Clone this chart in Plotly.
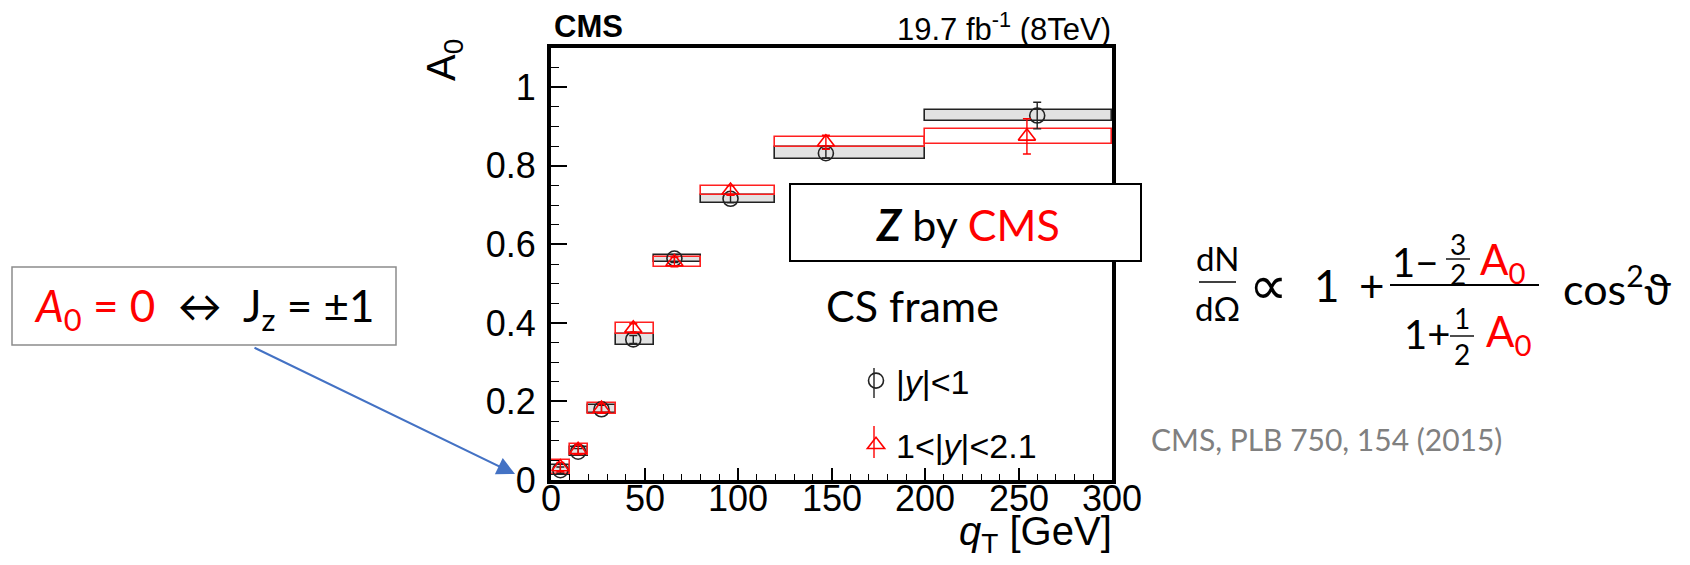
import plotly.graph_objects as go

# qT bins [GeV]
bin_lo = [0, 10, 20, 35, 55, 80, 120, 200]
bin_hi = [10, 20, 35, 55, 80, 120, 200, 300]

# |y| < 1 (central rapidity)
qt_c = [5, 14.5, 27, 44, 66, 96, 147, 260]
a0_c = [0.025, 0.072, 0.180, 0.358, 0.564, 0.716, 0.832, 0.928]
stat_c = [0.008, 0.008, 0.010, 0.010, 0.010, 0.010, 0.012, 0.034]
syst_c = [0.012, 0.012, 0.010, 0.015, 0.009, 0.0095, 0.015, 0.014]

# 1 < |y| < 2.1 (forward rapidity)
qt_f = [5, 14.5, 27, 44, 66, 96, 147, 254.5]
a0_f = [0.033, 0.077, 0.182, 0.386, 0.555, 0.737, 0.860, 0.875]
stat_f = [0.012, 0.012, 0.012, 0.012, 0.012, 0.012, 0.018, 0.045]
syst_f = [0.018, 0.014, 0.014, 0.015, 0.012, 0.012, 0.0125, 0.019]

# x-axis tick labels
x_ticks = [0, 50, 100, 150, 200, 250, 300]

W, H = 1690, 565
L, R, T, B = 551, 1112, 48, 480


def px(xp):
    return (xp - L) / (R - L)


def py(yp):
    return (B - yp) / (B - T)


ROOT_FONT = "Liberation Sans, Arial, sans-serif"
SLIDE_FONT = "Lato, Open Sans, sans-serif"

centers = [(a + b) / 2 for a, b in zip(bin_lo, bin_hi)]
widths = [b - a for a, b in zip(bin_lo, bin_hi)]

fig = go.Figure()

# systematic uncertainty boxes
fig.add_trace(go.Bar(
    x=centers, width=widths,
    base=[v - s for v, s in zip(a0_c, syst_c)],
    y=[2 * s for s in syst_c],
    marker=dict(color="#e2e2e2", line=dict(color="#222222", width=1.6)),
    showlegend=False, hoverinfo="skip"))
fig.add_trace(go.Bar(
    x=centers, width=widths,
    base=[v - s for v, s in zip(a0_f, syst_f)],
    y=[2 * s for s in syst_f],
    marker=dict(color="rgba(0,0,0,0)", line=dict(color="#ff2020", width=1.6)),
    showlegend=False, hoverinfo="skip"))

# measured points with statistical errors
fig.add_trace(go.Scatter(
    x=qt_c, y=a0_c, mode="markers", name="|<i>y</i>|&lt;1",
    legendgroup="c",
    marker=dict(symbol="circle-open", size=15, color="#222222",
                line=dict(width=1.6, color="#222222")),
    error_y=dict(type="data", array=stat_c, color="#222222",
                 thickness=1.4, width=4)))
fig.add_trace(go.Scatter(
    x=qt_f, y=a0_f, mode="markers", name="1&lt;|<i>y</i>|&lt;2.1",
    legendgroup="f",
    marker=dict(symbol="triangle-up-open", size=15, color="#ff0000",
                line=dict(width=1.6, color="#ff0000")),
    error_y=dict(type="data", array=stat_f, color="#ff0000",
                 thickness=1.4, width=4)))

ann = []


def text(x, y, s, size, color="black", font=SLIDE_FONT, xanchor="center",
         yanchor="middle", angle=0):
    ann.append(dict(xref="paper", yref="paper", x=px(x), y=py(y), text=s,
                    showarrow=False, xanchor=xanchor, yanchor=yanchor,
                    textangle=angle,
                    font=dict(family=font, size=size, color=color)))


# x tick labels placed on the data axis, just under the frame
for v in x_ticks:
    ann.append(dict(xref="x", yref="paper", x=v, y=py(499), text=str(v),
                    showarrow=False, xanchor="center", yanchor="middle",
                    font=dict(family=ROOT_FONT, size=36, color="black")))

# ROOT header and axis titles
text(552, 27, "<b>CMS</b>", 31, font=ROOT_FONT, xanchor="left")
text(1113, 27, "19.7 fb<sup>-1</sup> (8TeV)", 31, font=ROOT_FONT,
     xanchor="right")
text(444, 60, "A<sub>0</sub>", 40, font=ROOT_FONT, angle=-90)
text(1114, 534, "<i>q</i><sub>T</sub> [GeV]", 40, font=ROOT_FONT,
     xanchor="right")

# slide annotations
text(968, 224, "<b><i>Z</i></b> by <span style='color:#ff0000'>CMS</span>",
     43)
text(912, 305, "CS frame", 43)
text(204, 308,
     "<span style='color:#ff0000'><i>A</i><sub>0</sub> = 0</span>"
     "  ↔  J<sub>z</sub> = ±1", 44)
text(1326, 439, "CMS, PLB 750, 154 (2015)", 30, color="#808080")

# angular distribution formula
text(1217, 258, "dN", 33)
text(1217, 308, "dΩ", 33)
text(1268, 285, "∝", 54, font="DejaVu Sans, sans-serif")
text(1327, 285, "1", 44)
text(1372, 285, "+", 44)
text(1415, 262, "1−", 40)
text(1458, 244, "3", 28)
text(1458, 274, "2", 28)
text(1502, 262, "A<sub>0</sub>", 42, color="#ff0000")
text(1427, 334, "1+", 40)
text(1462, 318, "1", 28)
text(1462, 354, "2", 28)
text(1508, 334, "A<sub>0</sub>", 42, color="#ff0000")
text(1617, 285, "cos<sup>2</sup>ϑ", 43)

# arrow pointing at A0 = 0
ann.append(dict(xref="paper", yref="paper", x=px(515), y=py(474), text="",
                showarrow=True, axref="pixel", ayref="pixel",
                ax=253 - 515, ay=347 - 474, arrowhead=2, arrowsize=1.8,
                arrowwidth=2, arrowcolor="#4472c4", standoff=0))

shapes = []


def box(x0, y0, x1, y1, color, width):
    shapes.append(dict(type="rect", xref="paper", yref="paper",
                       x0=px(x0), x1=px(x1), y0=py(y1), y1=py(y0),
                       line=dict(color=color, width=width),
                       fillcolor="white", layer="above"))


def line(x0, y0, x1, y1, color="black", width=1.6):
    shapes.append(dict(type="line", xref="paper", yref="paper",
                       x0=px(x0), x1=px(x1), y0=py(y0), y1=py(y1),
                       line=dict(color=color, width=width), layer="above"))


box(790, 184, 1141, 261, "black", 2)
box(12, 267, 396, 345, "#8c8c8c", 1.5)

# fraction bars of the formula
line(1199, 282, 1236, 282)
line(1390, 285, 1539, 285, width=2)
line(1446, 259, 1470, 259, width=1.4)
line(1450, 336, 1474, 336, width=1.4)

# error-bar strokes on the legend keys
line(874, 368, 874, 398, color="#222222", width=1.4)
line(874, 426, 874, 458, color="#ff0000", width=1.4)

fig.update_layout(
    width=W, height=H,
    margin=dict(l=L, r=W - R, t=T, b=H - B, pad=0),
    paper_bgcolor="white", plot_bgcolor="white",
    barmode="overlay", bargap=0,
    showlegend=True,
    legend=dict(x=px(856), y=py(352), xanchor="left", yanchor="top",
                bgcolor="rgba(0,0,0,0)", tracegroupgap=17,
                font=dict(family=ROOT_FONT, size=34, color="black")),
    annotations=ann, shapes=shapes,
    xaxis=dict(range=[0, 300], dtick=50, ticks="inside", ticklen=12,
               tickwidth=1.5, tickcolor="black", showgrid=False,
               zeroline=False, showline=True, linewidth=4, linecolor="black",
               mirror=True, showticklabels=False,
               minor=dict(dtick=10, ticks="inside", ticklen=6, tickwidth=1.2,
                          tickcolor="black", showgrid=False)),
    yaxis=dict(range=[0, 1.1], dtick=0.2, ticks="inside", ticklen=16,
               tickwidth=1.5, tickcolor="black", showgrid=False,
               zeroline=False, showline=True, linewidth=4, linecolor="black",
               mirror=True, ticklabelstandoff=4,
               minor=dict(dtick=0.05, ticks="inside", ticklen=8,
                          tickwidth=1.2, tickcolor="black", showgrid=False),
               tickfont=dict(family=ROOT_FONT, size=36, color="black")),
)

fig.write_html("out.html")
